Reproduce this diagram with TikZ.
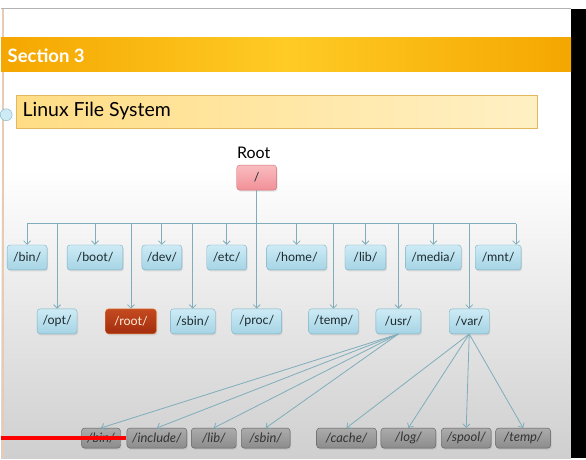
\documentclass[tikz,border=0pt]{standalone}
\usepackage{fontspec}
\setmainfont{Lato}
\usetikzlibrary{arrows.meta,shadows}

\definecolor{hdrorange}{HTML}{F5A600}
\definecolor{hdrgold}{HTML}{FFCB25}
\definecolor{titleleft}{HTML}{FFDD85}
\definecolor{titleright}{HTML}{FFF0C4}
\definecolor{titleline}{HTML}{E2B75E}
\definecolor{dirtop}{HTML}{CDEBF5}
\definecolor{dirbottom}{HTML}{A6D4E5}
\definecolor{dirline}{HTML}{7DB1C4}
\definecolor{dirtext}{HTML}{1E2A30}
\definecolor{slashtop}{HTML}{F9BCC0}
\definecolor{slashbottom}{HTML}{F19097}
\definecolor{slashline}{HTML}{D0707A}
\definecolor{roottop}{HTML}{C44A20}
\definecolor{rootbottom}{HTML}{A32E0E}
\definecolor{rootline}{HTML}{E8843A}
\definecolor{subtop}{HTML}{ABABAB}
\definecolor{subbottom}{HTML}{8C8C8C}
\definecolor{subline}{HTML}{5E5E5E}
\definecolor{linkcol}{HTML}{7FADBC}
\definecolor{bggray}{HTML}{CFCFCF}

\begin{document}
\begin{tikzpicture}[x=1pt,y=-1pt,
  link/.style={draw=linkcol, line width=0.8pt},
  arr/.style={link, -{Straight Barb[length=3.5pt,width=7pt]}},
  dirbox/.style={draw=dirline, top color=dirtop, bottom color=dirbottom,
    rounded corners=3pt, minimum height=25pt, inner sep=0pt, text=dirtext,
    font=\fontsize{12.5}{12.5}\selectfont,
    drop shadow={opacity=.2,shadow xshift=1pt,shadow yshift=-1.5pt}},
  subbox/.style={dirbox, draw=subline, top color=subtop, bottom color=subbottom,
    minimum height=20pt, text=black!80, font=\fontsize{13}{13}\selectfont\itshape},
  ]
% background of the slide
\fill[white] (0,0) rectangle (586,459);
\shade[top color=white, bottom color=bggray] (0,170) rectangle (571,459);
\draw[black!30, line width=1pt] (0,9) -- (571,9);
\draw[brown!40, line width=2pt] (2,9) -- (2,459);
\fill[black] (571,9) rectangle (586,459);

% header bar
\shade[left color=hdrorange, right color=hdrorange, middle color=hdrgold] (0,38) rectangle (571,72);
\node[anchor=west, text=white, font=\fontsize{18.5}{18.5}\selectfont\bfseries] (section) at (3,56) {Section 3};

% title box
\node[anchor=north west, draw=titleline, left color=titleleft, right color=titleright,
  minimum width=522pt, minimum height=33pt, inner sep=0pt,
  drop shadow={opacity=.25,shadow xshift=1pt,shadow yshift=-1.5pt}] (title) at (15,95) {};
\node[anchor=west, font=\fontsize{19.5}{19.5}\selectfont] (titletext) at (18,111) {Linux File System};
\fill[draw=dirline, fill=dirtop] (5,115) circle (6);

% root
\node[font=\fontsize{16}{16}\selectfont] (rootlabel) at (253,153) {Root};
\node[dirbox, draw=slashline, top color=slashtop, bottom color=slashbottom,
  minimum width=40pt] (slash) at (256,178) {/};

% first row
\node[dirbox, minimum width=40pt] (bin) at (26,258) {/bin/};
\node[dirbox, minimum width=56pt] (boot) at (94,258) {/boot/};
\node[dirbox, minimum width=40pt] (dev) at (161,258) {/dev/};
\node[dirbox, minimum width=40pt] (etc) at (226,258) {/etc/};
\node[dirbox, minimum width=60pt] (home) at (296,258) {/home/};
\node[dirbox, minimum width=41pt] (lib) at (365,258) {/lib/};
\node[dirbox, minimum width=56pt] (media) at (433,258) {/media/};
\node[dirbox, minimum width=46pt] (mnt) at (498,258) {/mnt/};

% second row
\node[dirbox, minimum width=40pt] (opt) at (56,322) {/opt/};
\node[dirbox, draw=rootline, top color=roottop, bottom color=rootbottom,
  text=orange!15, minimum width=51pt] (rootdir) at (130,322) {/root/};
\node[dirbox, minimum width=45pt] (sbin) at (192,322) {/sbin/};
\node[dirbox, minimum width=50pt] (proc) at (256,322) {/proc/};
\node[dirbox, minimum width=50pt] (temp) at (333,322) {/temp/};
\node[dirbox, minimum width=45pt] (usr) at (398,322) {/usr/};
\node[dirbox, minimum width=40pt] (var) at (469,322) {/var/};

% third row
\node[subbox, minimum width=39pt] (ubin) at (100,439) {/bin/};
\node[subbox, minimum width=60pt] (uinclude) at (156,439) {/include/};
\node[subbox, minimum width=45pt] (ulib) at (213,439) {/lib/};
\node[subbox, minimum width=49pt] (usbin) at (265,439) {/sbin/};
\node[subbox, minimum width=60pt] (vcache) at (346,439) {/cache/};
\node[subbox, minimum width=55pt] (vlog) at (408,439) {/log/};
\node[subbox, minimum width=50pt] (vspool) at (466,439) {/spool/};
\node[subbox, minimum width=55pt] (vtemp) at (523,439) {/temp/};

% connectors
\coordinate (busl) at (26,224);
\coordinate (busr) at (516,224);
\draw[link] (busl) -- (busr);
\foreach \d in {bin,boot,dev,etc,home,lib,media,opt,rootdir,sbin,temp,usr,var}
  \draw[arr] (\d.north |- busl) -- (\d.north);
\draw[arr] (busr) -- (busr |- mnt.north);
\draw[arr] (slash.south) -- (proc.north);
\foreach \d in {ubin,uinclude,ulib,usbin}
  \draw[arr] (usr.south) -- (\d.north);
\foreach \d in {vcache,vlog,vspool,vtemp}
  \draw[arr] (var.south) -- (\d.north);

% video progress bar
\fill[red] (0,437) rectangle (125,441);
\end{tikzpicture}
\end{document}
